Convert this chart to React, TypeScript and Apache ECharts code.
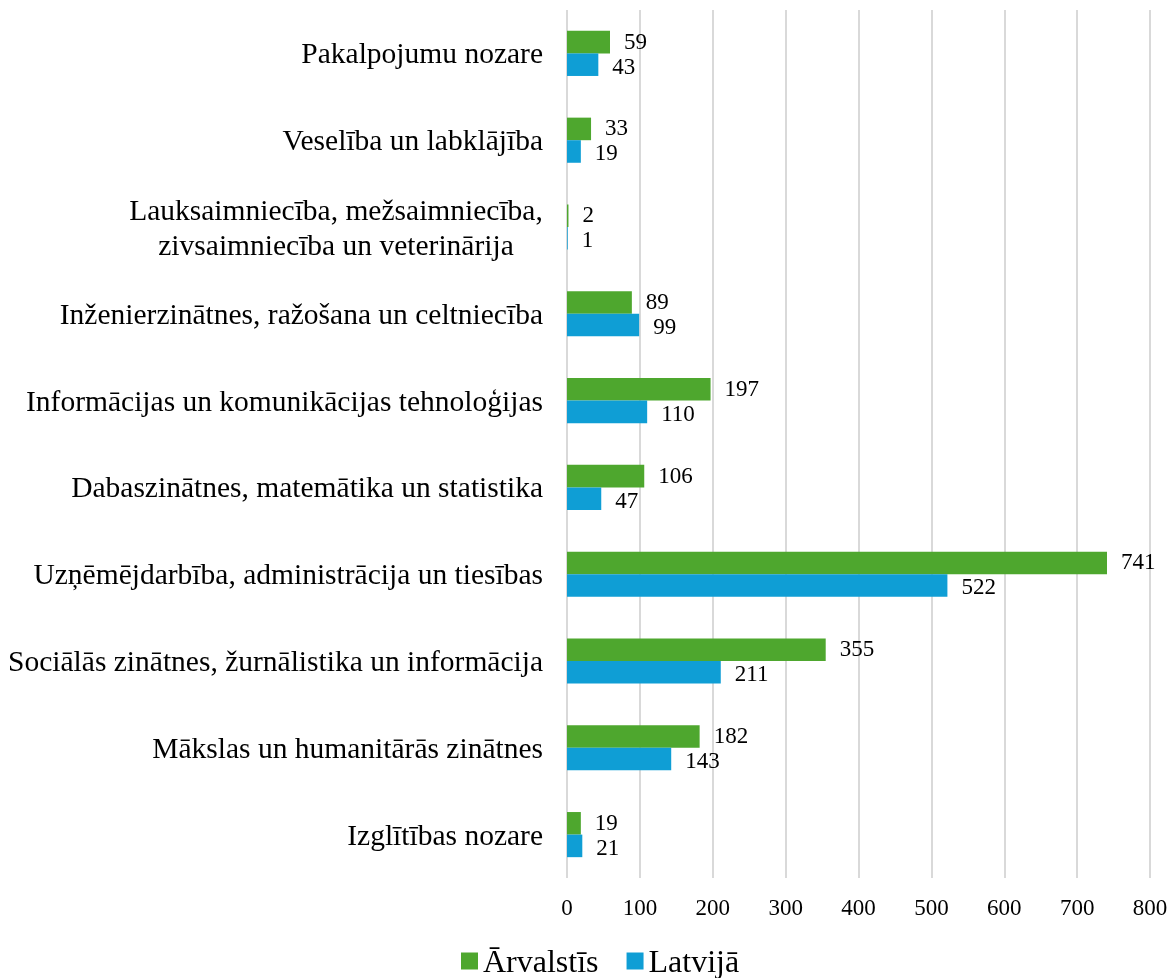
import React, { useEffect, useRef } from "react";
import * as echarts from "echarts";

const categories = [
  "Izglītības nozare",
  "Mākslas un humanitārās zinātnes",
  "Sociālās zinātnes, žurnālistika un informācija",
  "Uzņēmējdarbība, administrācija un tiesības",
  "Dabaszinātnes, matemātika un statistika",
  "Informācijas un komunikācijas tehnoloģijas",
  "Inženierzinātnes, ražošana un celtniecība",
  "Lauksaimniecība, mežsaimniecība,\nzivsaimniecība un veterinārija",
  "Veselība un labklājība",
  "Pakalpojumu nozare",
];
const arvalstis = [19, 182, 355, 741, 106, 197, 89, 2, 33, 59];
const latvija = [21, 143, 211, 522, 47, 110, 99, 1, 19, 43];
const xTicks = [0, 100, 200, 300, 400, 500, 600, 700, 800];

const FONT = "'Liberation Serif', 'Times New Roman', serif";
const CAT_SIZE = 29.5;

function measure(text: string, size: number): number {
  const c = document.createElement("canvas");
  const ctx = c.getContext("2d");
  if (!ctx) return 412;
  ctx.font = `${size}px ${FONT}`;
  return Math.ceil(ctx.measureText(text).width);
}

export default function App() {
  const ref = useRef<HTMLDivElement>(null);
  useEffect(() => {
    if (!ref.current) return;
    const chart = echarts.init(ref.current, undefined, { renderer: "svg" });
    const multi = categories.find((c) => c.indexOf("\n") >= 0) || "";
    const blockW = Math.max(...multi.split("\n").map((l) => measure(l, CAT_SIZE)));
    const labelStyle = (dy: number) => ({
      show: true,
      position: "right",
      distance: 14,
      offset: [0, dy],
      fontFamily: FONT,
      fontSize: 23,
      lineHeight: 21,
      color: "#000",
    });
    chart.setOption({
      animation: false,
      textStyle: { fontFamily: FONT },
      grid: { left: 567, right: 21, top: 10, bottom: 100, containLabel: false },
      legend: {
        data: ["Ārvalstīs", "Latvijā"],
        bottom: -5,
        left: 456,
        itemWidth: 17,
        itemHeight: 17,
        itemGap: 28,
        icon: "rect",
        textStyle: { fontFamily: FONT, fontSize: 32, color: "#000", lineHeight: 34 },
      },
      xAxis: {
        type: "value",
        min: xTicks[0],
        max: xTicks[xTicks.length - 1],
        interval: 100,
        axisLine: { show: false },
        axisTick: { show: false },
        splitLine: { show: true, lineStyle: { color: "#d9d9d9", width: 2 } },
        axisLabel: { fontFamily: FONT, fontSize: 23, color: "#000", margin: 18 },
      },
      yAxis: {
        type: "category",
        data: categories,
        axisLine: { show: false },
        axisTick: { show: false },
        axisLabel: {
          fontFamily: FONT,
          fontSize: CAT_SIZE,
          color: "#000",
          margin: 24,
          formatter: (v: string) => {
            if (v.indexOf("\n") >= 0) {
              return v.split("\n").map((l) => `{c|${l}}`).join("\n");
            }
            return v;
          },
          rich: {
            c: { width: blockW, align: "center", fontFamily: FONT, fontSize: CAT_SIZE, color: "#000", lineHeight: 35 },
          },
        },
      },
      series: [
        {
          name: "Ārvalstīs",
          type: "bar",
          data: arvalstis,
          itemStyle: { color: "#4EA72E" },
          barGap: "0%",
          barCategoryGap: "48%",
          label: labelStyle(-1),
        },
        {
          name: "Latvijā",
          type: "bar",
          data: latvija,
          itemStyle: { color: "#0F9ED5" },
          barGap: "0%",
          barCategoryGap: "48%",
          label: labelStyle(1.5),
        },
      ],
    });
    return () => chart.dispose();
  }, []);
  return (
    <div
      ref={ref}
      style={{ position: "fixed", left: 0, top: 0, width: 1171, height: 978 }}
    />
  );
}
